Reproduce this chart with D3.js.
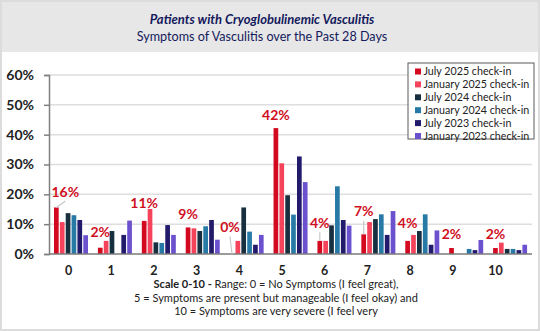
<!DOCTYPE html>
<html>
<head>
<meta charset="utf-8">
<script src="https://cdn.jsdelivr.net/npm/d3@7"></script>
<style>
  body { margin: 0; background: #fff; }
  svg { display: block; font-family: Lato, "Open Sans", sans-serif; }
</style>
</head>
<body>
<svg id="chart"></svg>
<script>
// score categories on the 0-10 scale
const categories = ["0", "1", "2", "3", "4", "5", "6", "7", "8", "9", "10"];

const seriesNames = [
    "July 2025 check-in",
    "January 2025 check-in",
    "July 2024 check-in",
    "January 2024 check-in",
    "July 2023 check-in",
    "January 2023 check-in"
];

// percent of respondents per score
const july2025 = [15.6, 2.1, 11.1, 8.9, 0, 42.2, 4.4, 6.6, 4.4, 2.0, 2.0];
const jan2025  = [10.7, 4.4, 15.1, 8.6, 4.4, 30.4, 4.4, 10.7, 6.4, 0, 3.8];
const july2024 = [13.7, 7.7, 3.9, 7.7, 15.6, 19.7, 9.6, 11.7, 7.7, 0, 1.7];
const jan2024  = [13.0, 0, 3.7, 9.3, 7.5, 13.2, 22.7, 13.3, 13.3, 1.7, 1.7];
const july2023 = [11.4, 6.4, 9.7, 11.4, 3.1, 32.7, 11.4, 6.4, 3.1, 1.3, 1.3];
const jan2023  = [6.3, 11.2, 6.4, 4.8, 6.4, 24.1, 9.5, 14.4, 7.9, 4.7, 3.1];

const yTicks = [0, 10, 20, 30, 40, 50, 60];

const colors = ["#d2091f", "#f4435a", "#172f3e", "#2779a6", "#221a6b", "#6c51cf"];

const footerLines = [
    [["Scale 0-10 - ", true], ["Range: 0 = No Symptoms (I feel great),", false]],
    [["5 = Symptoms are present but manageable (I feel okay) and", false]],
    [["10 = Symptoms are very severe (I feel very", false]]
];

const seriesValues = [july2025, jan2025, july2024, jan2024, july2023, jan2023];

// how far each value label sits above its bar, and which ones get a leader line
const labelLift = [16, 16, 18, 13.5, 27, 13, 18, 23, 18, 14, 14];
const labelShift = [9, 0, 0, 0, -2, 0, 0, 0, 0, 0, 0];
const labelLeader = [true, false, false, false, true, false, true, true, false, false, false];

const W = 540, H = 331;
const svg = d3.select("#chart").attr("width", W).attr("height", H);

// frame and header band
svg.append("rect").attr("x", 1).attr("y", 1).attr("width", W - 2).attr("height", H - 2)
    .attr("fill", "#fff").attr("stroke", "#dcdcdc").attr("stroke-width", 2);
svg.append("rect").attr("x", 2).attr("y", 2).attr("width", W - 4).attr("height", 50)
    .attr("fill", "#e7e7e7");

svg.append("text").attr("x", 262).attr("y", 23.5).attr("text-anchor", "middle")
    .attr("font-size", 13).attr("font-weight", "bold").attr("font-style", "italic")
    .attr("fill", "#141a5c").text("Patients with Cryoglobulinemic Vasculitis");
svg.append("text").attr("x", 262).attr("y", 40.5).attr("text-anchor", "middle")
    .attr("font-size", 12.6).attr("fill", "#141a5c")
    .text("Symptoms of Vasculitis over the Past 28 Days");

const plotLeft = 49, plotRight = 532, plotTop = 75, plotBottom = 254;

let x0 = d3.scaleBand().domain(categories).range([plotLeft, plotRight]);
let x1 = d3.scaleBand().domain(seriesNames).range([5, 39]).paddingInner(0.2);
let y = d3.scaleLinear().domain([0, 60]).range([plotBottom, plotTop]);
let xLabel = d3.scalePoint().domain(categories).range([68, 495]);

// gridlines
svg.append("g").selectAll("line")
    .data(yTicks.slice(1))
    .join("line")
    .attr("x1", plotLeft).attr("x2", plotRight)
    .attr("y1", d => y(d)).attr("y2", d => y(d))
    .attr("stroke", "#dedede").attr("stroke-width", 1.5);

// bars
let groups = svg.append("g").selectAll("g")
    .data(categories)
    .join("g")
    .attr("transform", d => "translate(" + x0(d) + ",0)");

groups.selectAll("rect")
    .data((c, i) => seriesNames.map((s, k) => ({ series: s, k: k, value: seriesValues[k][i] })))
    .join("rect")
    .attr("x", d => x1(d.series))
    .attr("width", x1.bandwidth())
    .attr("y", d => y(d.value))
    .attr("height", d => plotBottom - y(d.value))
    .attr("fill", d => colors[d.k]);

// baseline
svg.append("line").attr("x1", plotLeft).attr("x2", plotRight)
    .attr("y1", plotBottom).attr("y2", plotBottom)
    .attr("stroke", "#7a7a7a").attr("stroke-width", 1.5);

// y axis
let yAxis = svg.append("g")
    .attr("transform", "translate(" + plotLeft + ",0)")
    .call(d3.axisLeft(y).tickValues(yTicks).tickFormat(d => d + "%").tickSize(5).tickPadding(10));
yAxis.select(".domain").attr("stroke", "#808080").attr("stroke-width", 1.5);
yAxis.selectAll(".tick line").attr("stroke", "#808080").attr("stroke-width", 1.5);
yAxis.selectAll(".tick text").attr("font-size", 14).attr("font-weight", "bold")
    .attr("fill", "#222").attr("font-family", "Lato, sans-serif");

// x axis labels
let xAxis = svg.append("g")
    .attr("transform", "translate(0," + 266 + ")")
    .call(d3.axisBottom(xLabel).tickSize(0).tickPadding(0));
xAxis.select(".domain").remove();
xAxis.selectAll(".tick text").attr("font-size", 12.5).attr("font-weight", "bold")
    .attr("fill", "#222").attr("font-family", "Lato, sans-serif");

// value labels for the latest check-in
let labels = svg.append("g");
categories.forEach((c, i) => {
    let v = july2025[i];
    let bx = x0(c) + x1(seriesNames[0]) + x1.bandwidth() / 2;
    let by = y(v);
    let lx = bx + labelShift[i], ly = by - labelLift[i];
    if (labelLeader[i]) {
        labels.append("line")
            .attr("x1", lx).attr("y1", ly + 9.5)
            .attr("x2", bx).attr("y2", by)
            .attr("stroke", "#c8c8c8").attr("stroke-width", 1.2);
    }
    labels.append("text")
        .attr("x", lx).attr("y", ly).attr("dy", "0.36em")
        .attr("text-anchor", "middle")
        .attr("font-size", 14).attr("font-weight", "bold").attr("fill", "#d0101f")
        .text(d3.format(".0f")(v) + "%");
});

// legend
let legend = svg.append("g").attr("transform", "translate(408,63)");
legend.append("rect").attr("width", 126).attr("height", 76)
    .attr("fill", "#fff").attr("stroke", "#5a5a5a").attr("stroke-width", 1);
let items = legend.selectAll("g.item")
    .data(seriesNames)
    .join("g")
    .attr("class", "item")
    .attr("transform", (d, i) => "translate(0," + (5.5 + i * 12.9) + ")");
items.append("rect").attr("x", 7).attr("y", 0).attr("width", 6).attr("height", 6)
    .attr("fill", (d, i) => colors[i]);
items.append("text").attr("x", 15.5).attr("y", 3).attr("dy", "0.35em")
    .attr("font-size", 10.7).attr("fill", "#222").text(d => d);

// footer note
let foot = svg.append("g");
footerLines.forEach((parts, i) => {
    let t = foot.append("text")
        .attr("x", 276).attr("y", 288 + i * 13.5)
        .attr("text-anchor", "middle")
        .attr("font-size", 11).attr("fill", "#222");
    parts.forEach(p => {
        t.append("tspan").attr("font-weight", p[1] ? "bold" : "normal").text(p[0]);
    });
});
</script>
</body>
</html>
